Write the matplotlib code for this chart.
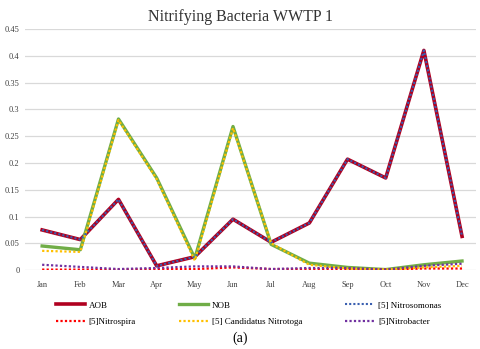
import matplotlib.pyplot as plt

months = ["Jan", "Feb", "Mar", "Apr", "May", "Jun", "Jul", "Aug", "Sep", "Oct", "Nov", "Dec"]

aob = [0.075, 0.057, 0.132, 0.008, 0.025, 0.095, 0.052, 0.088, 0.207, 0.172, 0.410, 0.063]
nob = [0.045, 0.038, 0.282, 0.172, 0.022, 0.268, 0.048, 0.013, 0.005, 0.001, 0.010, 0.017]
nitrosomonas = [0.075, 0.057, 0.132, 0.008, 0.025, 0.095, 0.052, 0.088, 0.207, 0.172, 0.410, 0.063]
nitrospira = [0.001, 0.001, 0.001, 0.002, 0.002, 0.005, 0.002, 0.002, 0.002, 0.001, 0.003, 0.003]
nitrotoga = [0.036, 0.034, 0.280, 0.170, 0.018, 0.265, 0.050, 0.010, 0.003, 0.001, 0.005, 0.008]
nitrobacter = [0.010, 0.006, 0.002, 0.004, 0.007, 0.007, 0.002, 0.004, 0.004, 0.001, 0.008, 0.012]

plt.rcParams['font.family'] = ['Liberation Serif', 'DejaVu Serif']

fig = plt.figure(figsize=(4.8, 3.49), dpi=100)
ax = fig.add_axes([0.052, 0.226, 0.94, 0.691])

x = range(len(months))
dots = (0, (1, 1))
h_aob, = ax.plot(x, aob, color="#B00020", lw=2.6, label="AOB")
h_nob, = ax.plot(x, nob, color="#70AD47", lw=2.4, label="NOB")
h_nsm, = ax.plot(x, nitrosomonas, color="#3A5FB0", lw=1.5, ls=dots, label="[5] Nitrosomonas")
h_nsp, = ax.plot(x, nitrospira, color="#FF0000", lw=1.6, ls=dots, label="[5]Nitrospira")
h_ntg, = ax.plot(x, nitrotoga, color="#FFC000", lw=1.6, ls=dots, label="[5] Candidatus Nitrotoga")
h_nbc, = ax.plot(x, nitrobacter, color="#7030A0", lw=1.6, ls=dots, label="[5]Nitrobacter")

ax.set_xlim(-0.45, 11.37)
ax.set_ylim(0, 0.45)
ax.set_yticks([0, 0.05, 0.1, 0.15, 0.2, 0.25, 0.3, 0.35, 0.4, 0.45])
ax.set_yticklabels(["0", "0.05", "0.1", "0.15", "0.2", "0.25", "0.3", "0.35", "0.4", "0.45"])
ax.set_xticks(list(x))
ax.set_xticklabels(months)
ax.tick_params(length=0, labelsize=6, pad=8, labelcolor="#404040")
ax.tick_params(axis="y", pad=4)
ax.grid(axis="y", color="#D9D9D9", lw=0.9)
ax.set_axisbelow(True)
for s in ax.spines.values():
    s.set_visible(False)

fig.suptitle("Nitrifying Bacteria WWTP 1", y=0.975, fontsize=11.5, color="#333333")

handles = [h_aob, h_nsp, h_nob, h_ntg, h_nsm, h_nbc]
fig.legend(handles=handles, labels=[h.get_label() for h in handles], ncol=3,
           loc="upper left", bbox_to_anchor=(0.1, 0.16), frameon=False,
           fontsize=6.5, handlelength=3.2, handletextpad=0.4, columnspacing=4.8,
           labelspacing=0.9)

fig.text(0.5, 0.02, "(a)", ha="center", fontsize=10)

fig.savefig("out.png", dpi=100)
